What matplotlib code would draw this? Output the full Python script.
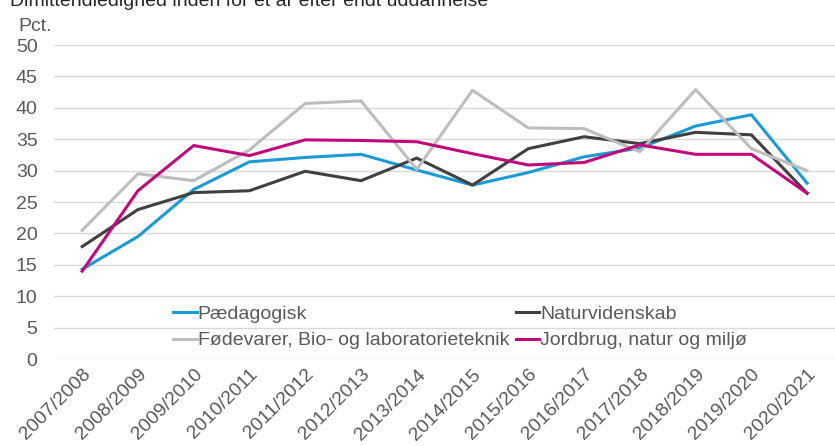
import matplotlib.pyplot as plt
import numpy as np

plt.rcParams['font.family'] = ['Liberation Sans', 'DejaVu Sans']

years = ['2007/2008', '2008/2009', '2009/2010', '2010/2011', '2011/2012', '2012/2013',
         '2013/2014', '2014/2015', '2015/2016', '2016/2017', '2017/2018', '2018/2019',
         '2019/2020', '2020/2021']

paedagogisk = [14.3, 19.5, 27.0, 31.4, 32.1, 32.6, 30.1, 27.7, 29.7, 32.2, 33.6, 37.1, 38.9, 28.0]
naturvidenskab = [17.9, 23.8, 26.5, 26.8, 29.9, 28.4, 32.0, 27.7, 33.5, 35.4, 34.3, 36.1, 35.7, 26.4]
foedevarer = [20.5, 29.5, 28.4, 33.3, 40.7, 41.1, 30.2, 42.8, 36.8, 36.7, 33.0, 42.9, 33.5, 30.0]
jordbrug = [14.0, 26.8, 34.0, 32.4, 34.9, 34.8, 34.6, 32.7, 30.9, 31.3, 34.1, 32.6, 32.6, 26.4]

fig = plt.figure(figsize=(8.35, 4.46), dpi=100)
ax = fig.add_axes([0.065, 0.195, 0.935, 0.704])

x = np.arange(len(years))
lw = 2.2
ax.plot(x, paedagogisk, color='#1b9ad6', lw=lw, label='Pædagogisk')
ax.plot(x, naturvidenskab, color='#404040', lw=lw, label='Naturvidenskab')
ax.plot(x, foedevarer, color='#bdbdbd', lw=lw, label='Fødevarer, Bio- og laboratorieteknik')
ax.plot(x, jordbrug, color='#c0097a', lw=lw, label='Jordbrug, natur og miljø')

ax.set_xlim(-0.5, len(years) - 0.5)
ax.set_ylim(0, 50)
ax.set_yticks(range(0, 51, 5))
ax.set_xticks(x)
ax.set_xticklabels(years, rotation=45, ha='right', rotation_mode='anchor')
ax.tick_params(axis='both', length=0, labelsize=14, labelcolor='#595959')
ax.tick_params(axis='y', pad=12)
ax.tick_params(axis='x', pad=5)
ax.grid(axis='y', color='#d9d9d9', lw=1)
ax.set_axisbelow(True)
for s in ax.spines.values():
    s.set_visible(False)

# legend: row1 = Pæd, Natur; row2 = Fødevarer, Jordbrug
h, l = ax.get_legend_handles_labels()
order = [0, 2, 1, 3]
ax.legend([h[i] for i in order], [l[i] for i in order], ncol=2, frameon=False,
          loc='lower left', bbox_to_anchor=(0.13, -0.025), fontsize=14,
          handlelength=1.2, handletextpad=0.05, columnspacing=0.35,
          labelcolor='#595959', labelspacing=0.45)

fig.text(0.022, 0.94, 'Pct.', fontsize=14, color='#595959', ha='left', va='center')
fig.text(0.012, 0.998, 'Dimittendledighed inden for et år efter endt uddannelse',
         fontsize=14, color='#262626', ha='left', va='center')

fig.savefig('out.png', dpi=100)
